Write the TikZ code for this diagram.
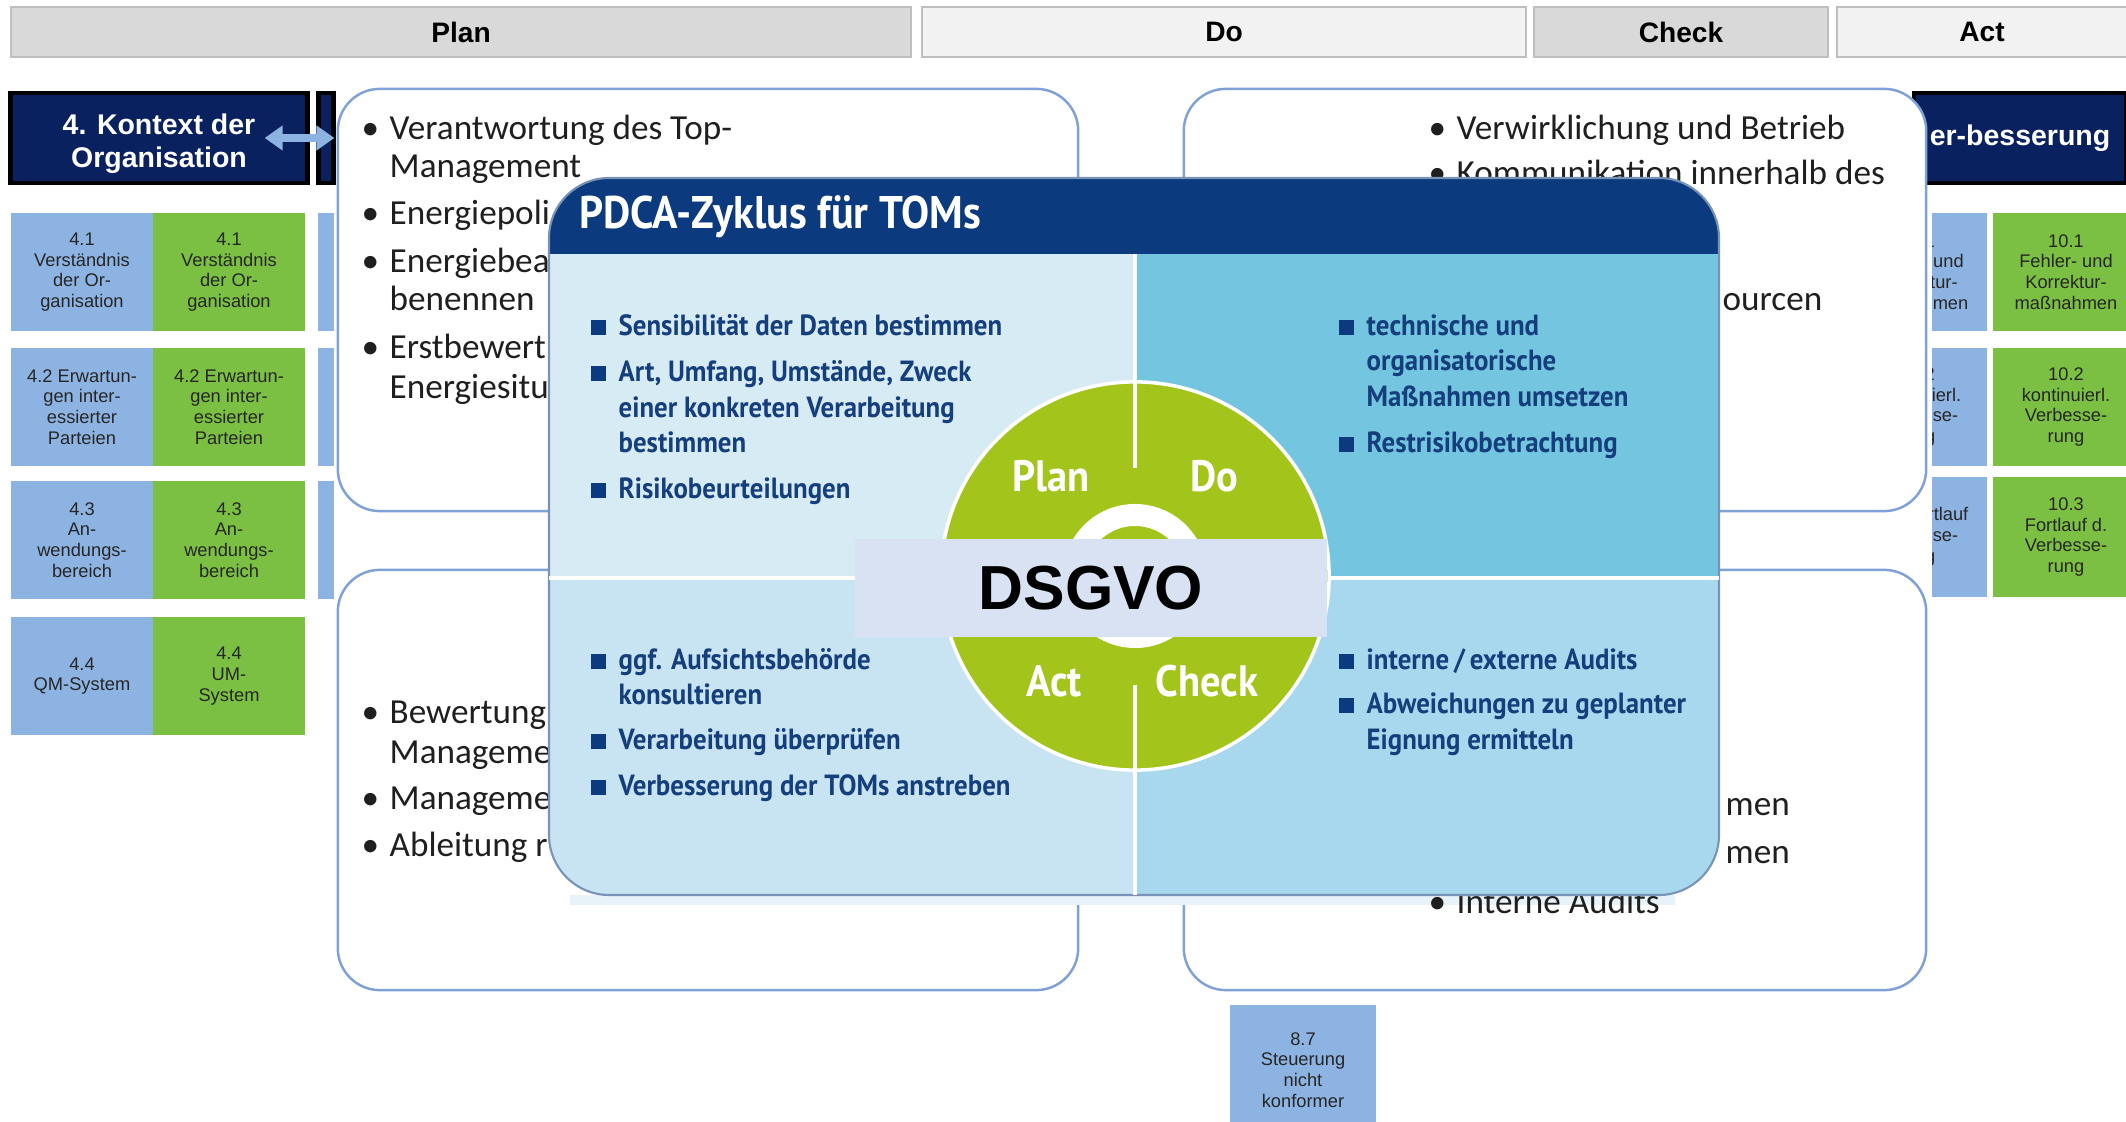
\documentclass[tikz,border=0pt]{standalone}
\usepackage{fontspec}
\setmainfont{Liberation Sans}
\newfontfamily\calfont{Carlito}
\newfontfamily\tomfont[FakeStretch=0.92]{PT Sans}
\usetikzlibrary{arrows.meta, positioning}
\definecolor{hdrgray}{HTML}{D9D9D9}
\definecolor{hdrlight}{HTML}{F2F2F2}
\definecolor{hdrborder}{HTML}{BFBFBF}
\definecolor{isonavy}{HTML}{0A2160}
\definecolor{qmblue}{HTML}{8DB3E2}
\definecolor{umgreen}{HTML}{7BC043}
\definecolor{frameblue}{HTML}{7FA1D6}
\definecolor{tomnavy}{HTML}{0B3B7E}
\definecolor{tomtext}{HTML}{153E7C}
\definecolor{quadplan}{HTML}{D7EBF5}
\definecolor{quaddo}{HTML}{74C5DF}
\definecolor{quadact}{HTML}{C8E4F2}
\definecolor{quadcheck}{HTML}{A8D8EE}
\definecolor{circgreen}{HTML}{A3C41B}
\definecolor{dsgvobg}{HTML}{D9E2F2}
\definecolor{bodytext}{HTML}{1F1F1F}
\newcommand{\pbullet}{\makebox[0.28cm][l]{\textbullet}}
\newcommand{\tomsq}{\makebox[0.28cm][l]{\textcolor{tomnavy}{\rule{0.15cm}{0.15cm}}}}

\begin{document}
\begin{tikzpicture}[x=0.01cm, y=-0.01cm,
  phasebar/.style={draw=hdrborder, fill=#1, line width=0.6pt, minimum height=0.5cm, inner sep=0pt, font=\fontsize{8}{9}\selectfont\bfseries},
  isobox/.style={draw=black, fill=isonavy, line width=1.2pt, minimum height=0.9cm, inner sep=0pt, align=center, text=white, font=\fontsize{8.1}{9.3}\selectfont\bfseries},
  clausebox/.style={fill=#1, minimum height=1.18cm, inner sep=0pt, align=center, text=black!85, font=\fontsize{5.2}{5.9}\selectfont},
  rahmen/.style={draw=frameblue, fill=white, line width=0.7pt, rounded corners=0.42cm, inner sep=0pt},
  fliess/.style={anchor=west, inner sep=0pt, text height=7.5pt, text depth=2.5pt, text=bodytext, font=\calfont\fontsize{10}{12}\selectfont},
  tomitem/.style={anchor=west, inner sep=0pt, text height=6pt, text depth=2pt, text=tomtext, font=\tomfont\bfseries\fontsize{8.3}{10}\selectfont},
  phaselabel/.style={inner sep=0pt, text=white, font=\tomfont\bfseries\fontsize{12.5}{14}\selectfont},
]
\clip (0,0) rectangle (2126,1122);
\fill[white] (0,0) rectangle (2126,1122);

% PDCA phases on top
\node[phasebar=hdrgray, minimum width=9.0cm] (plan) at (461,32) {Plan};
\node[phasebar=hdrlight, minimum width=6.04cm] (do) at (1224,32) {Do};
\node[phasebar=hdrgray, minimum width=2.94cm] (check) at (1681,32) {Check};
\node[phasebar=hdrlight, minimum width=2.9cm] (act) at (1982,32) {Act};

% chapter 4 and its neighbour
\node[isobox, minimum width=2.97cm] (kontext) at (159,138) {\rule{0pt}{9pt}4. Kontext der\\Organisation};
\node[isobox, minimum width=0.15cm] (leitung) at (326,138) {};
\draw[{Triangle[width=0.24cm, length=0.18cm]}-{Triangle[width=0.24cm, length=0.18cm]}, qmblue, line width=2.3pt, shorten >=-0.18cm] ([xshift=-0.45cm]kontext.east) -- (leitung.west);

% clause boxes left
\node[clausebox=qmblue, minimum width=1.42cm] (qm1) at (82,272) {4.1\\Verständnis\\der Or-\\ganisation};
\node[clausebox=umgreen, minimum width=1.51cm] (um1) at (229,272) {4.1\\Verständnis\\der Or-\\ganisation};
\node[clausebox=qmblue, minimum width=1.42cm] (qm2) at (82,407) {4.2 Erwartun-\\gen inter-\\essierter\\Parteien};
\node[clausebox=umgreen, minimum width=1.51cm] (um2) at (229,407) {4.2 Erwartun-\\gen inter-\\essierter\\Parteien};
\node[clausebox=qmblue, minimum width=1.42cm] (qm3) at (82,540) {4.3\\An-\\wendungs-\\bereich};
\node[clausebox=umgreen, minimum width=1.51cm] (um3) at (229,540) {4.3\\An-\\wendungs-\\bereich};
\node[clausebox=qmblue, minimum width=1.42cm] (qm4) at (82,676) {4.4\\QM-System};
\node[clausebox=umgreen, minimum width=1.51cm] (um4) at (229,676) {4.4\\UM-\\System};
\node[clausebox=qmblue, minimum width=0.15cm] (fuehr1) at (326,272) {};
\node[clausebox=qmblue, minimum width=0.15cm] (fuehr2) at (326,407) {};
\node[clausebox=qmblue, minimum width=0.15cm] (fuehr3) at (326,540) {};

% chapter 10 on the right
\node[isobox, minimum width=2.12cm] (verbesserung) at (2020,138) {er-besserung};
\begin{scope}
  \clip (1932,200) rectangle (1993,620);
  \node[clausebox=qmblue, minimum width=1.4cm] (qm101) at (1917,272) {10.1\\Fehler- und\\Korrektur-\\maßnahmen};
  \node[clausebox=qmblue, minimum width=1.4cm] (qm102) at (1917,407) {10.2\\kontinuierl.\\Verbesse-\\rung};
  \node[clausebox=qmblue, minimum width=1.4cm, minimum height=1.2cm] (qm103) at (1917,537) {10.3 Fortlauf\\Verbesse-\\rung};
\end{scope}
\node[clausebox=umgreen, minimum width=1.46cm] (um101) at (2066,272) {10.1\\Fehler- und\\Korrektur-\\maßnahmen};
\node[clausebox=umgreen, minimum width=1.46cm] (um102) at (2066,407) {10.2\\kontinuierl.\\Verbesse-\\rung};
\node[clausebox=umgreen, minimum width=1.46cm, minimum height=1.2cm] (um103) at (2066,537) {10.3\\Fortlauf d.\\Verbesse-\\rung};

% four rounded frames
\node[rahmen, minimum width=7.40cm, minimum height=4.22cm] (planbox) at (708,300) {};
\node[rahmen, minimum width=7.42cm, minimum height=4.22cm] (dobox) at (1555,300) {};
\node[rahmen, minimum width=7.40cm, minimum height=4.20cm] (actbox) at (708,780) {};
\node[rahmen, minimum width=7.42cm, minimum height=4.20cm] (checkbox) at (1555,780) {};
\fill[quadplan!60] (570,895) rectangle (1675,905);

% texts inside the frames
\node[fliess] (p1) at (361,131) {\pbullet Verantwortung des Top-};
\node[fliess] (p1b) at (389,169) {Management};
\node[fliess] (p2) at (361,216) {\pbullet Energiepoli};
\node[fliess] (p3) at (361,264) {\pbullet Energiebea};
\node[fliess] (p3b) at (389,302) {benennen};
\node[fliess] (p4) at (361,350) {\pbullet Erstbewert};
\node[fliess] (p4b) at (389,390) {Energiesitu};
\node[fliess] (d1) at (1428,131) {\pbullet Verwirklichung und Betrieb};
\node[fliess] (d2) at (1428,176) {\pbullet Kommunikation innerhalb des};
\node[fliess] (d3) at (1722,302) {ourcen};
\node[fliess] (a1) at (361,715) {\pbullet Bewertung};
\node[fliess] (a1b) at (389,755) {Manageme};
\node[fliess] (a2) at (361,801) {\pbullet Manageme};
\node[fliess] (a3) at (361,848) {\pbullet Ableitung r};
\node[fliess] (c1) at (1725,807) {men};
\node[fliess] (c2) at (1725,855) {men};
\node[fliess] (c3) at (1428,905) {\pbullet Interne Audits};

% clause 8.7 below
\node[clausebox=qmblue, minimum width=1.46cm, minimum height=1.3cm] (steuerung) at (1303,1070) {8.7\\Steuerung\\nicht\\konformer};

% PDCA overlay for TOMs
\begin{scope}
  \clip[rounded corners=0.6cm] (549,178) rectangle (1719,895);
  \fill[quadplan] (549,254) rectangle (1135,578);
  \fill[quaddo] (1135,254) rectangle (1719,578);
  \fill[quadact] (549,578) rectangle (1135,895);
  \fill[quadcheck] (1135,578) rectangle (1719,895);
  \fill[tomnavy] (549,178) rectangle (1719,254);
\end{scope}
\draw[tomnavy!55, line width=0.6pt, rounded corners=0.6cm] (549,178) rectangle (1719,895);
\draw[white, line width=1.2pt] (1135,254) -- (1135,895);
\draw[white, line width=1.2pt] (549,578) -- (1719,578);
\node[anchor=west, inner sep=0pt, text=white, font=\tomfont\bfseries\fontsize{13}{15}\selectfont] (titel) at (579,217) {PDCA-Zyklus für TOMs};

% items per quadrant
\node[tomitem] (tp1) at (590,328) {\tomsq Sensibilität der Daten bestimmen};
\node[tomitem] (tp2) at (590,374) {\tomsq Art, Umfang, Umstände, Zweck};
\node[tomitem] (tp2b) at (618,410) {einer konkreten Verarbeitung};
\node[tomitem] (tp2c) at (618,445) {bestimmen};
\node[tomitem] (tp3) at (590,491) {\tomsq Risikobeurteilungen};
\node[tomitem] (td1) at (1338,328) {\tomsq technische und};
\node[tomitem] (td1b) at (1366,363) {organisatorische};
\node[tomitem] (td1c) at (1366,399) {Maßnahmen umsetzen};
\node[tomitem] (td2) at (1338,445) {\tomsq Restrisikobetrachtung};
\node[tomitem] (ta1) at (590,662) {\tomsq ggf. Aufsichtsbehörde};
\node[tomitem] (ta1b) at (618,697) {konsultieren};
\node[tomitem] (ta2) at (590,742) {\tomsq Verarbeitung überprüfen};
\node[tomitem] (ta3) at (590,788) {\tomsq Verbesserung der TOMs anstreben};
\node[tomitem] (tc1) at (1338,662) {\tomsq interne\,/\,externe Audits};
\node[tomitem] (tc2) at (1338,706) {\tomsq Abweichungen zu geplanter};
\node[tomitem] (tc2b) at (1366,742) {Eignung ermitteln};

% cycle in the middle
\node[circle, fill=circgreen, draw=white, line width=1pt, minimum size=3.88cm, inner sep=0pt] (kreis) at (1135,576) {};
\draw[white, line width=1.2pt] (kreis.north) -- (1135,468);
\draw[white, line width=1.2pt] (1135,685) -- (kreis.south);
\draw[white, line width=0.22cm] (1135,576) ++(25:0.61cm) arc[start angle=25, end angle=155, radius=0.61cm];
\draw[white, line width=0.22cm] (1135,576) ++(205:0.61cm) arc[start angle=205, end angle=335, radius=0.61cm];
\node[phaselabel] (lplan) at (1051,476) {Plan};
\node[phaselabel] (ldo) at (1214,476) {Do};
\node[phaselabel] (lact) at (1054,681) {Act};
\node[phaselabel] (lcheck) at (1207,681) {Check};

% DSGVO banner
\node[fill=dsgvobg, minimum width=4.71cm, minimum height=0.97cm, inner sep=0pt, font=\fontsize{17.7}{20}\selectfont\bfseries] (dsgvo) at (1091,588) {DSGVO};
\end{tikzpicture}
\end{document}
